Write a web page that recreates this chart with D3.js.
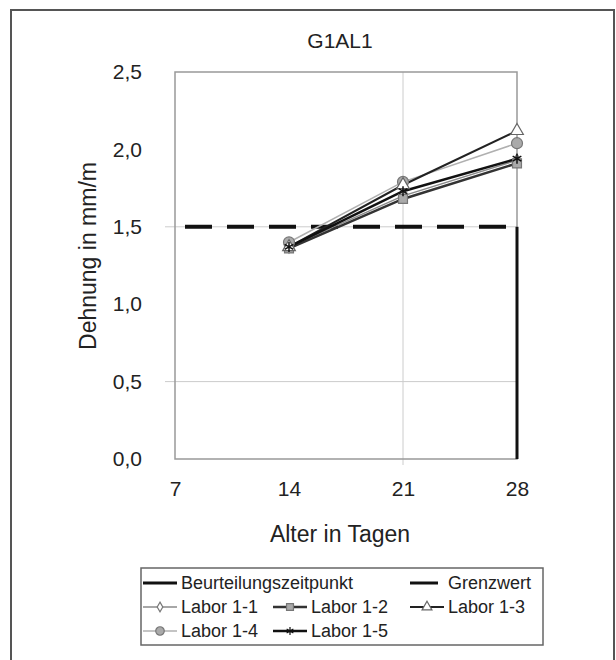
<!DOCTYPE html>
<html>
<head>
<meta charset="utf-8">
<script src="https://cdn.jsdelivr.net/npm/d3@7"></script>
<style>
  body { margin: 0; background: #fff; }
  text { font-family: "Liberation Sans", Arial, sans-serif; fill: #222; }
</style>
</head>
<body>
<div class="svg-container"></div>
<script>
const days = [14, 21, 28];
const labor11 = [1.37, 1.70, 1.93];
const labor12 = [1.36, 1.68, 1.91];
const labor13 = [1.37, 1.77, 2.12];
const labor14 = [1.40, 1.79, 2.04];
const labor15 = [1.37, 1.73, 1.94];
const grenzwert = 1.5;
const beurteilungDay = 28;
const xTicks = [7, 14, 21, 28];
const yTicks = [0, 0.5, 1.0, 1.5, 2.0, 2.5];

const outerWidth = 616;
const outerHeight = 660;
const margin = { left: 175, top: 72, right: 99, bottom: 201 };
const innerWidth = outerWidth - margin.left - margin.right;
const innerHeight = outerHeight - margin.top - margin.bottom;

const svg = d3.select('.svg-container')
.append('svg')
.attr('width', outerWidth)
.attr('height', outerHeight);

// outer frame
svg.append('rect')
.attr('x', 11).attr('y', 10)
.attr('width', 603).attr('height', 680)
.attr('fill', 'none')
.attr('stroke', '#555')
.attr('stroke-width', 2);

const xScale = d3.scaleLinear().domain([7, 28]).range([margin.left, margin.left + innerWidth]);
const yScale = d3.scaleLinear().domain([0, 2.5]).range([margin.top + innerHeight, margin.top]);

// gridlines (every other tick, like the original)
svg.append('g')
.selectAll('line')
.data([0.5, 1.5])
.enter()
.append('line')
.attr('x1', xScale(7) - 10).attr('x2', xScale(28))
.attr('y1', d => yScale(d)).attr('y2', d => yScale(d))
.attr('stroke', '#ccc').attr('stroke-width', 1);

svg.append('line')
.attr('x1', xScale(21)).attr('x2', xScale(21))
.attr('y1', yScale(2.5)).attr('y2', yScale(0) + 6)
.attr('stroke', '#ccc').attr('stroke-width', 1);

// plot border
svg.append('rect')
.attr('x', xScale(7)).attr('y', yScale(2.5))
.attr('width', xScale(28) - xScale(7))
.attr('height', yScale(0) - yScale(2.5))
.attr('fill', 'none')
.attr('stroke', '#999')
.attr('stroke-width', 1.5);

const xAxis = d3.axisBottom(xScale).tickValues(xTicks).tickSize(0).tickPadding(22).tickFormat(d => d);
const yAxis = d3.axisLeft(yScale).tickValues(yTicks).tickSize(0).tickPadding(33)
.tickFormat(d => d3.format('.1f')(d).replace('.', ','));

const gx = svg.append('g')
.attr('transform', `translate(0, ${yScale(0)})`)
.call(xAxis);
gx.select('.domain').remove();
gx.selectAll('text').style('font-size', '21px').attr('fill', '#222');

const gy = svg.append('g')
.attr('transform', `translate(${xScale(7)}, 0)`)
.call(yAxis);
gy.select('.domain').remove();
gy.selectAll('text').style('font-size', '21px').attr('fill', '#222');

// Grenzwert
svg.append('line')
.attr('x1', xScale(7)).attr('x2', xScale(28))
.attr('y1', yScale(grenzwert)).attr('y2', yScale(grenzwert))
.attr('stroke', '#111')
.attr('stroke-width', 4)
.attr('stroke-dasharray', '27,15')
.attr('stroke-dashoffset', 32);

// Beurteilungszeitpunkt
svg.append('line')
.attr('x1', xScale(beurteilungDay)).attr('x2', xScale(beurteilungDay))
.attr('y1', yScale(0)).attr('y2', yScale(grenzwert))
.attr('stroke', '#111')
.attr('stroke-width', 3);

const series = [
  { name: 'Labor 1-1', values: labor11, line: '#8a8a8a', width: 1.5, symbol: d3.symbolDiamond, size: 45, fill: '#fff', stroke: '#777' },
  { name: 'Labor 1-2', values: labor12, line: '#333', width: 2.5, symbol: d3.symbolSquare, size: 80, fill: '#aaa', stroke: '#777' },
  { name: 'Labor 1-4', values: labor14, line: '#b0b0b0', width: 1.5, symbol: d3.symbolCircle, size: 95, fill: '#aaa', stroke: '#777' },
  { name: 'Labor 1-3', values: labor13, line: '#222', width: 2, symbol: d3.symbolTriangle, size: 70, fill: '#fff', stroke: '#666' },
  { name: 'Labor 1-5', values: labor15, line: '#111', width: 2.5, symbol: d3.symbolAsterisk, size: 70, fill: 'none', stroke: '#111' }
];

const line = d3.line()
.x((d, i) => xScale(days[i]))
.y(d => yScale(d));

series.forEach(s => {
  svg.append('path')
  .attr('d', line(s.values))
  .attr('fill', 'none')
  .attr('stroke', s.line)
  .attr('stroke-width', s.width);
});

series.forEach(s => {
  svg.append('g')
  .selectAll('path')
  .data(s.values)
  .enter()
  .append('path')
  .attr('d', d3.symbol().type(s.symbol).size(s.size))
  .attr('transform', (d, i) => `translate(${xScale(days[i])}, ${yScale(d)})`)
  .attr('fill', s.fill)
  .attr('stroke', s.stroke)
  .attr('stroke-width', s.symbol === d3.symbolAsterisk ? 1.5 : 1.2);
});

// title and axis titles
svg.append('text')
.text('G1AL1')
.attr('x', 340).attr('y', 48)
.attr('text-anchor', 'middle')
.style('font-size', '21px');

svg.append('text')
.text('Alter in Tagen')
.attr('x', 340).attr('y', 542)
.attr('text-anchor', 'middle')
.style('font-size', '23px');

svg.append('text')
.text('Dehnung in mm/m')
.attr('transform', 'translate(96, 256) rotate(-90)')
.attr('text-anchor', 'middle')
.style('font-size', '23px');

// legend
const legend = svg.append('g').attr('id', 'legend');
legend.append('rect')
.attr('x', 141).attr('y', 568)
.attr('width', 402).attr('height', 77)
.attr('fill', '#fff')
.attr('stroke', '#666')
.attr('stroke-width', 1.5);

const legendItems = [
  { label: 'Beurteilungszeitpunkt', x: 143, row: 0, width: 3, color: '#111' },
  { label: 'Grenzwert', x: 410, row: 0, width: 3, color: '#111', len: 28 },
  { label: 'Labor 1-1', x: 143, row: 1, s: series[0] },
  { label: 'Labor 1-2', x: 273, row: 1, s: series[1] },
  { label: 'Labor 1-3', x: 410, row: 1, s: series[3] },
  { label: 'Labor 1-4', x: 143, row: 2, s: series[2] },
  { label: 'Labor 1-5', x: 273, row: 2, s: series[4] }
];
const rowY = [583, 607, 631];

legendItems.forEach(item => {
  const y = rowY[item.row];
  const len = item.len || 34;
  const g = legend.append('g');
  g.append('line')
  .attr('x1', item.x).attr('x2', item.x + len)
  .attr('y1', y).attr('y2', y)
  .attr('stroke', item.s ? item.s.line : item.color)
  .attr('stroke-width', item.s ? item.s.width : item.width);
  if (item.s) {
    g.append('path')
    .attr('d', d3.symbol().type(item.s.symbol).size(item.s.size * 0.6))
    .attr('transform', `translate(${item.x + 17}, ${y})`)
    .attr('fill', item.s.fill)
    .attr('stroke', item.s.stroke)
    .attr('stroke-width', 1.2);
  }
  g.append('text')
  .text(item.label)
  .attr('x', item.x + (item.len ? 38 : 38))
  .attr('y', y + 6)
  .style('font-size', '18px');
});
</script>
</body>
</html>
